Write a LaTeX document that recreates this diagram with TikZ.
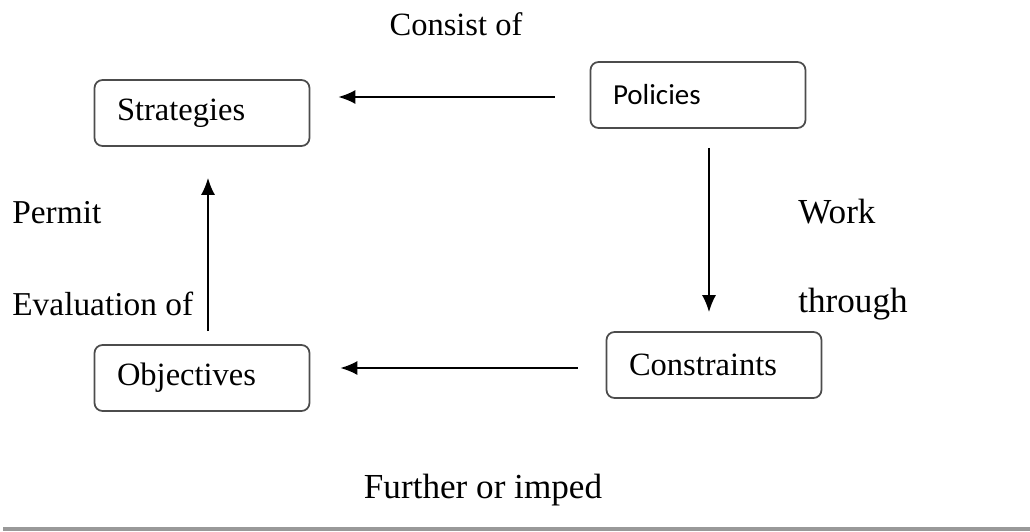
\documentclass[tikz,border=0pt]{standalone}
\usepackage{fontspec}
\setmainfont{Liberation Serif}
\newfontfamily\calfont{Carlito}
\usepackage{tikz}
\usetikzlibrary{arrows.meta}

\tikzset{
    box/.style={draw=black!70,line width=1pt,rounded corners=0.16cm,
        minimum height=1.32cm,text width=3.4cm,inner xsep=0.45cm,align=left,
        font=\fontsize{18.5}{20}\selectfont},
    arrow/.style={-{Latex[length=0.34cm,width=0.28cm]},line width=1pt},
    lbl/.style={font=\fontsize{19}{20}\selectfont,inner sep=0pt}
}

\begin{document}
\begin{tikzpicture}[x=0.02cm,y=-0.02cm]
        \useasboundingbox (0,0) rectangle (1030,531);

        \node[box] (strat) at (202,113) {Strategies};
        \node[box,font=\calfont\fontsize{16.5}{20}\selectfont] (pol) at (698,95) {Policies};
        \node[box] (con) at (714,365) {Constraints};
        \node[box] (obj) at (202,378) {Objectives};

        \draw[arrow,shorten <=0.7cm,shorten >=0.56cm] (pol.west |- 0,97) -- (strat.east |- 0,97);
        \draw[arrow,shorten <=0.38cm,shorten >=0.38cm] (pol.south -| 709,0) -- (con.north -| 709,0);
        \draw[arrow,shorten <=0.56cm,shorten >=0.6cm] (con.west |- 0,368) -- (obj.east |- 0,368);
        \draw[arrow,shorten <=0.26cm,shorten >=0.62cm] (obj.north -| 208,0) -- (strat.south -| 208,0);

        \node[lbl,font=\fontsize{18.5}{20}\selectfont] (consist) at (456,24) {Consist of};
        \node[lbl,anchor=west] (permit) at (12,213) {Permit};
        \node[lbl,anchor=west] (evalof) at (12,304) {Evaluation of};
        \node[lbl,anchor=west,font=\fontsize{20}{20}\selectfont] (work) at (798,212) {Work};
        \node[lbl,anchor=west,font=\fontsize{20}{20}\selectfont] (through) at (798,304) {through};
        \node[lbl,font=\fontsize{20}{20}\selectfont] (further) at (483,490) {Further or imped};

        \fill[black!40] (3,527) rectangle (1030,531);
\end{tikzpicture}
\end{document}
